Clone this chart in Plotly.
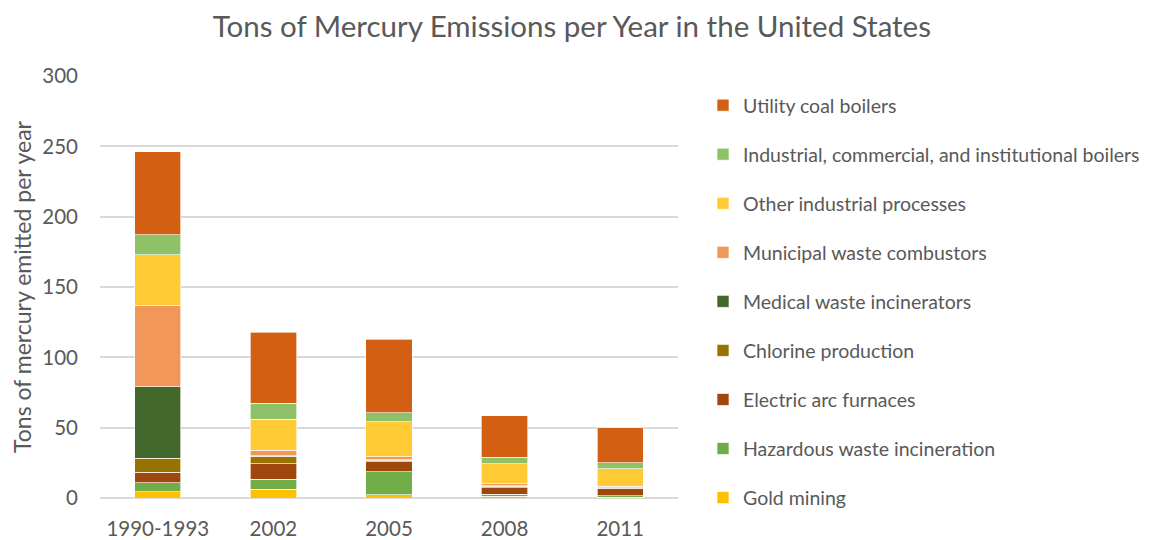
import plotly.graph_objects as go

categories = ["1990-1993", "2002", "2005", "2008", "2011"]

# series listed bottom to top of the stack
gold_mining = [4.3, 6.3, 2.3, 1.4, 0.5]
hazardous_waste = [6.6, 7.1, 16.4, 1.4, 1.0]
electric_arc = [7.4, 10.9, 7.1, 4.6, 5.4]
chlorine = [10.1, 5.5, 1.2, 1.1, 0.3]
medical_waste = [50.8, 0.3, 0.2, 0.2, 0.1]
municipal_waste = [57.6, 3.9, 2.2, 1.5, 1.0]
other_industrial = [36.3, 22.1, 24.7, 14.2, 12.5]
ici_boilers = [14.2, 11.1, 6.4, 4.6, 4.1]
utility_coal = [59.0, 50.6, 52.4, 29.3, 25.1]

series = [
    ("Gold mining", gold_mining, "#FFC000"),
    ("Hazardous waste incineration", hazardous_waste, "#70AD47"),
    ("Electric arc furnaces", electric_arc, "#9E480E"),
    ("Chlorine production", chlorine, "#997300"),
    ("Medical waste incinerators", medical_waste, "#43682B"),
    ("Municipal waste combustors", municipal_waste, "#F1975A"),
    ("Other industrial processes", other_industrial, "#FFCA33"),
    ("Industrial, commercial, and institutional boilers", ici_boilers, "#8FC169"),
    ("Utility coal boilers", utility_coal, "#D25F12"),
]

FONT = "Lato, 'Open Sans', sans-serif"
GREY = "#595959"

fig = go.Figure()
n = len(series)
for i, (name, vals, color) in enumerate(series):
    fig.add_trace(go.Bar(
        x=categories, y=vals, name=name, legendgroup=name, legendrank=n - i,
        marker=dict(color=color, line=dict(color="rgba(255,255,255,0.8)", width=0.8)),
    ))

fig.update_layout(
    barmode="stack",
    bargap=0.6,
    width=1153, height=540,
    margin=dict(l=92, r=483, t=68, b=50),
    paper_bgcolor="white", plot_bgcolor="white",
    font=dict(family=FONT, color=GREY),
    title=dict(text="Tons of Mercury Emissions per Year in the United States",
               xref="container", x=0.489, xanchor="center",
               yref="container", y=0.965, yanchor="middle",
               font=dict(size=29.5, color=GREY, family=FONT)),
    legend=dict(traceorder="grouped", tracegroupgap=20.7,
                xref="container", yref="container",
                x=695 / 1153, xanchor="left", y=1 - 78 / 540, yanchor="top",
                maxheight=540,
                font=dict(size=19.5, color=GREY, family=FONT),
                bgcolor="rgba(0,0,0,0)"),
    yaxis=dict(range=[0, 300], dtick=50, showgrid=True, gridcolor="#D9D9D9", gridwidth=1.5,
               zeroline=True, zerolinecolor="#D9D9D9", zerolinewidth=1.5,
               tickfont=dict(size=20.5, color=GREY), ticks="", ticklabelstandoff=21,
               automargin=False,
               title=dict(text="Tons of mercury emitted per year", font=dict(size=23, color=GREY),
                          standoff=14)),
    xaxis=dict(tickfont=dict(size=20.5, color=GREY), ticks="", showline=False,
               automargin=False, ticklabelstandoff=16),
)

fig.write_html("out.html")
